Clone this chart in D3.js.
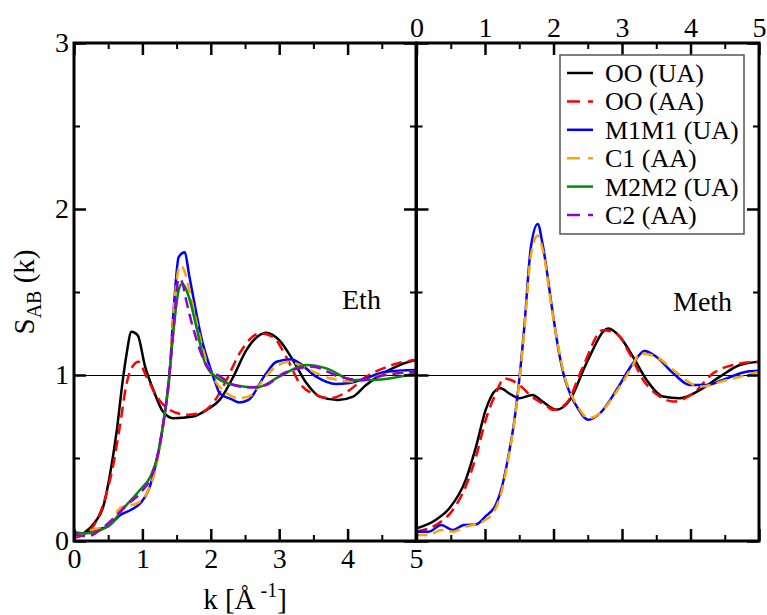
<!DOCTYPE html>
<html><head><meta charset="utf-8">
<script src="https://cdn.jsdelivr.net/npm/d3@7"></script>
<style>html,body{margin:0;padding:0;background:#fff;font-family:serif}</style>
</head><body>
<svg id="c" width="767" height="615"></svg>
<script>
// ---------- data ----------
const xTicks = [0,1,2,3,4,5];
const yTicks = [0,1,2,3];
const panelLabels = ["Eth","Meth"];
const legendNames = ["OO (UA)","OO (AA)","M1M1 (UA)","C1 (AA)","M2M2 (UA)","C2 (AA)"];

// Eth panel
const ethOOUA_k = [0,0.15,0.3,0.43,0.53,0.62,0.72,0.77,0.84,0.93,1.04,1.16,1.30,1.45,1.74,1.94,2.13,2.33,2.52,2.81,3.0,3.2,3.4,3.59,3.86,4.08,4.27,4.52,4.76,5.0];
const ethOOUA_S = [0.03,0.05,0.11,0.21,0.41,0.65,0.99,1.13,1.26,1.24,1.05,0.91,0.78,0.74,0.75,0.79,0.85,0.99,1.15,1.255,1.21,1.09,0.95,0.87,0.85,0.87,0.94,1.01,1.06,1.09];
const ethOOAA_k = [0,0.19,0.3,0.45,0.57,0.67,0.77,0.87,0.94,1.06,1.21,1.40,1.65,1.84,2.03,2.23,2.42,2.72,2.91,3.1,3.3,3.54,3.74,4.03,4.27,4.52,4.76,5.0];
const ethOOAA_S = [0.02,0.05,0.10,0.25,0.45,0.69,0.95,1.06,1.08,0.99,0.87,0.79,0.76,0.77,0.83,0.97,1.13,1.25,1.23,1.11,0.95,0.88,0.86,0.91,0.99,1.04,1.074,1.09];
const ethM1_k = [0,0.1,0.29,0.49,0.68,0.83,0.97,1.09,1.19,1.27,1.34,1.39,1.46,1.53,1.62,1.68,1.78,1.87,1.97,2.07,2.13,2.3,2.42,2.55,2.81,2.96,3.18,3.30,3.54,3.83,4.0,4.2,4.56,5.0];
const ethM1_S = [0.04,0.04,0.066,0.086,0.157,0.187,0.227,0.307,0.45,0.61,0.81,0.97,1.41,1.71,1.74,1.61,1.39,1.21,1.07,0.95,0.89,0.855,0.835,0.85,1.01,1.08,1.095,1.07,0.99,0.946,0.95,0.97,1.02,1.03];
const ethC1_k = [0,0.1,0.29,0.49,0.68,0.92,1.07,1.19,1.27,1.34,1.39,1.46,1.55,1.62,1.68,1.78,1.87,1.97,2.07,2.2,2.42,2.6,2.8,2.95,3.13,3.3,3.5,3.74,4.13,4.5,5.0];
const ethC1_S = [0.03,0.04,0.07,0.09,0.2,0.227,0.29,0.43,0.6,0.8,0.97,1.4,1.66,1.62,1.52,1.34,1.18,1.04,0.96,0.9,0.86,0.88,0.99,1.05,1.08,1.06,1.02,0.98,0.96,1.0,1.02];
const ethM2_k = [0,0.15,0.49,0.73,0.97,1.12,1.22,1.29,1.36,1.41,1.46,1.53,1.58,1.68,1.80,1.90,2.04,2.33,2.67,3.0,3.40,3.69,4.08,4.37,5.0];
const ethM2_S = [0.056,0.046,0.086,0.2,0.31,0.39,0.51,0.67,0.87,1.07,1.29,1.51,1.55,1.47,1.27,1.09,1.0,0.94,0.925,0.99,1.06,1.04,0.97,0.97,1.01];
const ethC2_k = [0,0.2,0.44,0.78,0.97,1.17,1.29,1.36,1.41,1.46,1.53,1.58,1.64,1.75,1.95,2.14,2.34,2.57,2.81,3.06,3.49,3.88,4.18,4.56,5.0];
const ethC2_S = [0.036,0.03,0.086,0.22,0.29,0.43,0.67,0.87,1.07,1.3,1.58,1.56,1.45,1.27,1.05,0.99,0.94,0.925,0.94,1.01,1.05,0.99,0.97,1.0,1.02];

// Meth panel
const methOOUA_k = [0,0.28,0.48,0.72,0.87,1.01,1.16,1.23,1.35,1.50,1.69,1.84,2.04,2.24,2.48,2.80,2.97,3.16,3.36,3.60,3.84,4.14,4.43,4.72,5.0];
const methOOUA_S = [0.076,0.127,0.197,0.37,0.57,0.79,0.91,0.92,0.89,0.86,0.88,0.84,0.79,0.85,1.07,1.28,1.23,1.11,0.97,0.87,0.86,0.91,0.99,1.06,1.08];
const methOOAA_k = [0,0.28,0.53,0.72,0.87,1.01,1.16,1.28,1.38,1.53,1.68,1.88,2.0,2.19,2.43,2.72,2.92,3.11,3.31,3.55,3.75,4.04,4.33,4.62,5.0];
const methOOAA_S = [0.056,0.096,0.187,0.33,0.51,0.73,0.89,0.98,0.97,0.93,0.87,0.82,0.79,0.83,1.05,1.27,1.25,1.13,0.97,0.87,0.84,0.89,1.01,1.06,1.08];
const methM1_k = [0,0.18,0.36,0.53,0.69,0.87,1.01,1.16,1.25,1.35,1.43,1.50,1.57,1.67,1.77,1.84,1.99,2.07,2.15,2.25,2.34,2.51,2.68,2.92,3.16,3.33,3.50,3.75,3.99,4.23,4.53,4.82,5.0];
const methM1_S = [0.056,0.056,0.096,0.066,0.096,0.10,0.15,0.22,0.33,0.53,0.73,0.97,1.27,1.77,1.91,1.79,1.37,1.16,1.0,0.88,0.81,0.73,0.77,0.91,1.07,1.145,1.11,1.01,0.94,0.94,0.98,1.02,1.025];
const methC1_k = [0,0.18,0.36,0.53,0.72,0.96,1.13,1.25,1.35,1.43,1.50,1.57,1.67,1.77,1.84,1.99,2.07,2.15,2.25,2.34,2.51,2.68,2.92,3.16,3.26,3.50,3.75,4.14,4.53,5.0];
const methC1_S = [0.036,0.036,0.066,0.056,0.086,0.116,0.177,0.31,0.52,0.72,0.96,1.25,1.72,1.84,1.76,1.36,1.17,1.01,0.89,0.82,0.74,0.77,0.9,1.06,1.13,1.11,1.03,0.93,0.97,1.02];

const seriesColors = ["#000000","#ff0000","#0000ff","#ffa500","#008b00","#9400d3"];
const seriesDashed = [false,true,false,true,false,true];

// ---------- layout ----------
const svg = d3.select("#c");
const setFont = (sel, size) => sel.attr("font-family", "serif").attr("font-size", size);
const yTop = 43, yBot = 541;
const panels = [
  {x0:74, x1:416, data:[[ethOOUA_k,ethOOUA_S],[ethOOAA_k,ethOOAA_S],[ethM1_k,ethM1_S],[ethC1_k,ethC1_S],[ethM2_k,ethM2_S],[ethC2_k,ethC2_S]], label:panelLabels[0], lx:342, ly:309},
  {x0:416.5, x1:759, data:[[methOOUA_k,methOOUA_S],[methOOAA_k,methOOAA_S],[methM1_k,methM1_S],[methC1_k,methC1_S]], label:panelLabels[1], lx:673, ly:311}
];
const y = d3.scaleLinear().domain([0,3]).range([yBot, yTop]);
const dash = "11,6";

panels.forEach((p, pi) => {
  const x = d3.scaleLinear().domain([0,5]).range([p.x0, p.x1]);
  const g = svg.append("g");
  const clipId = "clip"+pi;
  svg.append("clipPath").attr("id", clipId).append("rect")
    .attr("x", p.x0).attr("y", yTop).attr("width", p.x1-p.x0).attr("height", yBot-yTop);

  g.append("line").attr("x1", p.x0).attr("x2", p.x1).attr("y1", y(1)+0.5).attr("y2", y(1)+0.5)
    .attr("stroke","#000").attr("stroke-width",1);

  const line = d3.line().x(d=>x(d[0])).y(d=>y(d[1])).curve(d3.curveMonotoneX);
  const dg = g.append("g").attr("clip-path", `url(#${clipId})`);
  p.data.forEach((ser, i) => {
    const pts = ser[0].map((k, j) => [k, ser[1][j]]);
    dg.append("path").datum(pts).attr("d", line)
      .attr("fill","none").attr("stroke", seriesColors[i]).attr("stroke-width",2.5)
      .attr("stroke-linejoin","round")
      .attr("stroke-dasharray", seriesDashed[i] ? dash : null);
  });

  const styleAxis = (sel, w) => {
    sel.attr("font-family","serif").attr("font-size",28);
    sel.select(".domain").remove();
    sel.selectAll("line").attr("stroke-width", w);
    sel.selectAll("text").call(t=>setFont(t,28)).attr("fill","#000");
  };
  const minorX = [0.5,1.5,2.5,3.5,4.5];
  const minorY = [0.5,1.5,2.5];
  svg.append("g").attr("transform",`translate(0,${yBot})`)
    .call(d3.axisBottom(x).tickValues(xTicks).tickSize(-12).tickPadding(7).tickFormat(pi===0 ? d3.format("d") : ""))
    .call(s=>styleAxis(s,2.5));
  svg.append("g").attr("transform",`translate(0,${yBot})`)
    .call(d3.axisBottom(x).tickValues(minorX).tickSize(-6).tickFormat(""))
    .call(s=>styleAxis(s,2));
  svg.append("g").attr("transform",`translate(0,${yTop})`)
    .call(d3.axisTop(x).tickValues(xTicks).tickSize(-12).tickPadding(6).tickFormat(pi===1 ? d3.format("d") : ""))
    .call(s=>styleAxis(s,2.5));
  svg.append("g").attr("transform",`translate(0,${yTop})`)
    .call(d3.axisTop(x).tickValues(minorX).tickSize(-6).tickFormat(""))
    .call(s=>styleAxis(s,2));
  svg.append("g").attr("transform",`translate(${p.x0},0)`)
    .call(d3.axisLeft(y).tickValues(yTicks).tickSize(-12).tickPadding(5).tickFormat(pi===0 ? d3.format("d") : ""))
    .call(s=>styleAxis(s,2.5));
  svg.append("g").attr("transform",`translate(${p.x0},0)`)
    .call(d3.axisLeft(y).tickValues(minorY).tickSize(-6).tickFormat(""))
    .call(s=>styleAxis(s,2));
  svg.append("g").attr("transform",`translate(${p.x1},0)`)
    .call(d3.axisRight(y).tickValues(yTicks).tickSize(-12).tickFormat(""))
    .call(s=>styleAxis(s,2.5));
  svg.append("g").attr("transform",`translate(${p.x1},0)`)
    .call(d3.axisRight(y).tickValues(minorY).tickSize(-6).tickFormat(""))
    .call(s=>styleAxis(s,2));

  svg.append("rect").attr("x", p.x0).attr("y", yTop).attr("width", p.x1-p.x0).attr("height", yBot-yTop)
    .attr("fill","none").attr("stroke","#000").attr("stroke-width",3);

  svg.append("text").attr("x", p.lx).attr("y", p.ly).call(t=>setFont(t,28)).text(p.label);
});

// legend
const lg = svg.append("g");
lg.append("rect").attr("x",560).attr("y",55).attr("width",184).attr("height",179)
  .attr("fill","#fff").attr("stroke","#555").attr("stroke-width",1.5);
legendNames.forEach((n,i)=>{
  const cy = 73 + i*28.4;
  lg.append("line").attr("x1",567).attr("x2",593).attr("y1",cy).attr("y2",cy)
    .attr("stroke",seriesColors[i]).attr("stroke-width",2.5)
    .attr("stroke-dasharray", seriesDashed[i] ? "13,8" : null);
  lg.append("text").attr("x",605).attr("y",cy+9).call(t=>setFont(t,26)).text(n);
});

// axis titles
const yl = svg.append("text").attr("transform","translate(34,292) rotate(-90)")
  .attr("text-anchor","middle").call(t=>setFont(t,29));
yl.append("tspan").text("S");
yl.append("tspan").text("AB").attr("font-size",20).attr("dy",7);
yl.append("tspan").text(" (k)").attr("dy",-7);

const xl = svg.append("text").attr("x",245).attr("y",609)
  .attr("text-anchor","middle").call(t=>setFont(t,29));
xl.append("tspan").text("k [Å");
xl.append("tspan").text(" -1").attr("font-size",20).attr("dy",-12);
xl.append("tspan").text("]").attr("dy",12);
</script>
</body></html>
